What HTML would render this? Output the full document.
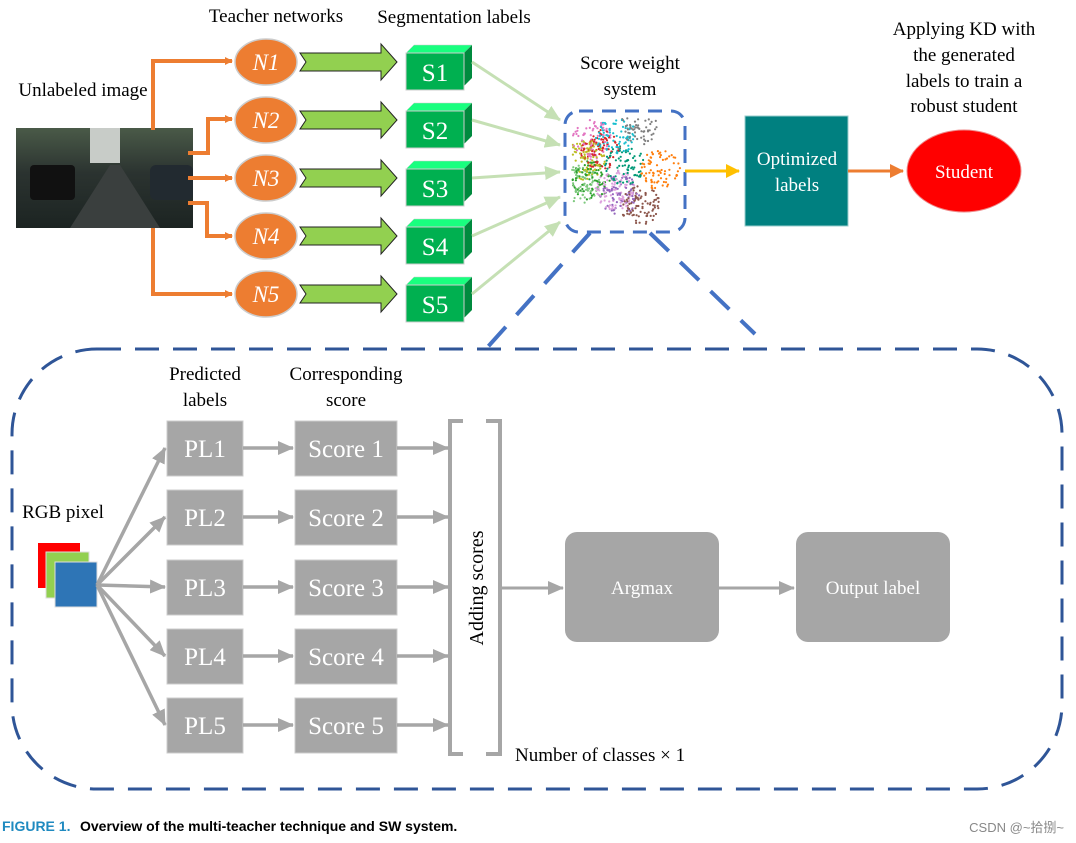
<!DOCTYPE html>
<html><head><meta charset="utf-8"><style>
body{margin:0;background:#fff}
svg{display:block}
text{font-family:"Liberation Serif",serif}
</style></head><body>
<svg id="s" width="1076" height="843" viewBox="0 0 1076 843" xmlns="http://www.w3.org/2000/svg">
<defs>
<marker id="ao" markerWidth="8" markerHeight="8" refX="7" refY="4" orient="auto" markerUnits="userSpaceOnUse"><path d="M0,0 L8,4 L0,8z" fill="#ed7d31"/></marker>
<marker id="ay" markerWidth="14" markerHeight="14" refX="13" refY="7" orient="auto" markerUnits="userSpaceOnUse"><path d="M0,0 L14,7 L0,14z" fill="#ffc000"/></marker>
<marker id="ao2" markerWidth="14" markerHeight="14" refX="13" refY="7" orient="auto" markerUnits="userSpaceOnUse"><path d="M0,0 L14,7 L0,14z" fill="#ed7d31"/></marker>
<marker id="ag" markerWidth="16" markerHeight="14" refX="15" refY="7" orient="auto" markerUnits="userSpaceOnUse"><path d="M0,0 L16,7 L0,14z" fill="#c5e0b4"/></marker>
<marker id="gr" markerWidth="16" markerHeight="14" refX="15" refY="7" orient="auto" markerUnits="userSpaceOnUse"><path d="M0,0 L16,7 L0,14z" fill="#a6a6a6"/></marker>
<linearGradient id="img" x1="0" y1="0" x2="0" y2="1"><stop offset="0" stop-color="#4a5a48"/><stop offset="0.45" stop-color="#2b3330"/><stop offset="1" stop-color="#1c2422"/></linearGradient>
</defs>

<text x="276" y="22" font-size="19" text-anchor="middle">Teacher networks</text>
<text x="454" y="23" font-size="19" text-anchor="middle">Segmentation labels</text>
<text x="83" y="96" font-size="19" text-anchor="middle">Unlabeled image</text>
<text x="630" y="69" font-size="19" text-anchor="middle">Score weight</text>
<text x="630" y="95" font-size="19" text-anchor="middle">system</text>
<text x="964" y="35" font-size="19" text-anchor="middle">Applying KD with</text>
<text x="964" y="61" font-size="19" text-anchor="middle">the generated</text>
<text x="964" y="87" font-size="19" text-anchor="middle">labels to train a</text>
<text x="964" y="112" font-size="19" text-anchor="middle">robust student</text>

<rect x="16" y="128" width="177" height="100" fill="url(#img)"/>
<rect x="90" y="128" width="30" height="35" fill="#c8ccc8"/>
<polygon points="70,228 110,165 120,165 160,228" fill="#3a3f3e"/>
<rect x="30" y="165" width="45" height="35" fill="#111" rx="4"/>
<rect x="150" y="165" width="43" height="35" fill="#222a30" rx="6"/>

<g stroke="#ed7d31" stroke-width="4" fill="none">
<path d="M153,130 V61 H232" marker-end="url(#ao)"/>
<path d="M188,153 H208 V119 H232" marker-end="url(#ao)"/>
<path d="M188,178 H232" marker-end="url(#ao)"/>
<path d="M188,203 H207 V236 H232" marker-end="url(#ao)"/>
<path d="M153,228 V294 H232" marker-end="url(#ao)"/>
</g>

<g id="rows"></g>

<rect x="565" y="111" width="120" height="121" rx="14" fill="#fff" stroke="#4472c4" stroke-width="3" stroke-dasharray="14,9"/>
<g id="dots"></g>
<line x1="590" y1="233" x2="485" y2="350" stroke="#4472c4" stroke-width="4" stroke-dasharray="26,16"/>
<line x1="650" y1="233" x2="755" y2="334" stroke="#4472c4" stroke-width="4" stroke-dasharray="26,16"/>

<line x1="685" y1="171" x2="739" y2="171" stroke="#ffc000" stroke-width="3" marker-end="url(#ay)"/>
<rect x="745" y="116" width="103" height="110" fill="#008080" stroke="#9cc" stroke-width="1"/>
<text x="797" y="165" font-size="19" fill="#fff" text-anchor="middle">Optimized</text>
<text x="797" y="191" font-size="19" fill="#fff" text-anchor="middle">labels</text>
<line x1="848" y1="171" x2="903" y2="171" stroke="#ed7d31" stroke-width="3" marker-end="url(#ao2)"/>
<ellipse cx="964" cy="171" rx="57" ry="41" fill="#ff0000" stroke="#e88" stroke-width="1"/>
<text x="964" y="178" font-size="19" fill="#fff" text-anchor="middle">Student</text>

<rect x="12" y="349" width="1050" height="440" rx="85" fill="none" stroke="#2f5597" stroke-width="3" stroke-dasharray="24,14"/>

<text x="205" y="380" font-size="19" text-anchor="middle">Predicted</text>
<text x="205" y="406" font-size="19" text-anchor="middle">labels</text>
<text x="346" y="380" font-size="19" text-anchor="middle">Corresponding</text>
<text x="346" y="406" font-size="19" text-anchor="middle">score</text>
<text x="63" y="518" font-size="19" text-anchor="middle">RGB pixel</text>
<rect x="38" y="543" width="42" height="45" fill="#ff0000"/>
<rect x="46" y="552" width="43" height="46" fill="#92d050" stroke="#ddd" stroke-width="1"/>
<rect x="55" y="562" width="42" height="45" fill="#2e75b6" stroke="#ddd" stroke-width="1"/>
<g id="bot"></g>

<path d="M463,421 H450 V754 H463 M486,421 H500 V754 H486" fill="none" stroke="#a6a6a6" stroke-width="4"/>
<text transform="translate(483,588) rotate(-90)" font-size="20" text-anchor="middle">Adding scores</text>
<line x1="500" y1="588" x2="563" y2="588" stroke="#a6a6a6" stroke-width="3" marker-end="url(#gr)"/>
<rect x="565" y="532" width="154" height="110" rx="12" fill="#a6a6a6"/>
<text x="642" y="594" font-size="19" fill="#fff" text-anchor="middle">Argmax</text>
<line x1="719" y1="588" x2="794" y2="588" stroke="#a6a6a6" stroke-width="3" marker-end="url(#gr)"/>
<rect x="796" y="532" width="154" height="110" rx="12" fill="#a6a6a6"/>
<text x="873" y="594" font-size="19" fill="#fff" text-anchor="middle">Output label</text>
<text x="515" y="761" font-size="19">Number of classes × 1</text>

<text x="2" y="831" font-size="14" font-weight="bold" fill="#1f8ac0" style="font-family:'Liberation Sans',sans-serif">FIGURE 1.</text>
<text x="80" y="831" font-size="14" font-weight="bold" style="font-family:'Liberation Sans',sans-serif">Overview of the multi-teacher technique and SW system.</text>
<text x="1064" y="832" font-size="13" fill="#888" text-anchor="end" style="font-family:'Liberation Sans','Noto Sans CJK SC',sans-serif">CSDN @~拾捌~</text>
</svg>
<script>
var NS="http://www.w3.org/2000/svg";
function el(p,t,a,txt){var e=document.createElementNS(NS,t);for(var k in a)e.setAttribute(k,a[k]);if(txt)e.textContent=txt;document.getElementById(p).appendChild(e);return e;}
var ys=[62,120,178,236,294];
var tg=[[560,120],[560,145],[560,172],[560,197],[560,222]];
ys.forEach(function(y,i){
 el("rows","ellipse",{cx:266,cy:y,rx:31,ry:23,fill:"#ed7d31",stroke:"#ccc","stroke-width":1.5});
 el("rows","text",{x:266,y:y+8,"font-size":23,"font-style":"italic",fill:"#fff","text-anchor":"middle"},"N"+(i+1));
 el("rows","path",{d:"M300,"+(y-9)+" H381 V"+(y-18)+" L397,"+y+" L381,"+(y+18)+" V"+(y+9)+" H300 L306,"+y+"Z",fill:"#92d050",stroke:"#222","stroke-width":1});
 var t=y-16;
 el("rows","polygon",{points:"406,"+(t+7)+" 414,"+(t-1)+" 472,"+(t-1)+" 464,"+(t+7),fill:"#19ff7f",stroke:"#ccc","stroke-width":0.5});
 el("rows","polygon",{points:"464,"+(t+7)+" 472,"+(t-1)+" 472,"+(t+32)+" 464,"+(t+40),fill:"#008a3e"});
 el("rows","rect",{x:406,y:t+7,width:58,height:37,fill:"#00b050",stroke:"#ccc","stroke-width":1});
 el("rows","text",{x:435,y:t+35,"font-size":25,fill:"#fff","text-anchor":"middle"},"S"+(i+1));
 el("rows","line",{x1:472,y1:y,x2:tg[i][0],y2:tg[i][1],stroke:"#c5e0b4","stroke-width":3,"marker-end":"url(#ag)"});
});
var cols=["#e377c2","#17becf","#2ca02c","#ff7f0e","#7f7f7f","#9467bd","#8c564b","#bcbd22","#d62728","#009977","#dda0dd","#7fc97f"];
var cen=[[592,140],[615,135],[590,180],[660,170],[640,125],[620,195],[640,205],[585,160],[600,150],[625,165],[615,190],[580,185]];
var seed=7;function r(){seed=(seed*16807)%2147483647;return seed/2147483647;}
for(var j=0;j<1000;j++){var c=Math.floor(r()*cols.length);var a=r()*6.28,d=Math.sqrt(r())*20;
 var x=cen[c][0]+Math.cos(a)*d,y=cen[c][1]+Math.sin(a)*d;if(x<572||x>680||y<118||y>226)continue;
 el("dots","circle",{cx:x.toFixed(1),cy:y.toFixed(1),r:1.1,fill:cols[c]});}
var by=[448,517,587,656,725];
by.forEach(function(y,i){
 el("bot","line",{x1:97,y1:585,x2:165,y2:y,stroke:"#a6a6a6","stroke-width":3.5,"marker-end":"url(#gr)"});
 el("bot","rect",{x:167,y:y-27,width:76,height:55,fill:"#a6a6a6",stroke:"#ccc","stroke-width":1});
 el("bot","text",{x:205,y:y+9,"font-size":25,fill:"#fff","text-anchor":"middle"},"PL"+(i+1));
 el("bot","line",{x1:243,y1:y,x2:293,y2:y,stroke:"#a6a6a6","stroke-width":3.5,"marker-end":"url(#gr)"});
 el("bot","rect",{x:295,y:y-27,width:102,height:55,fill:"#a6a6a6",stroke:"#ccc","stroke-width":1});
 el("bot","text",{x:346,y:y+9,"font-size":25,fill:"#fff","text-anchor":"middle"},"Score "+(i+1));
 el("bot","line",{x1:397,y1:y,x2:448,y2:y,stroke:"#a6a6a6","stroke-width":3.5,"marker-end":"url(#gr)"});
});
</script>
</body></html>
